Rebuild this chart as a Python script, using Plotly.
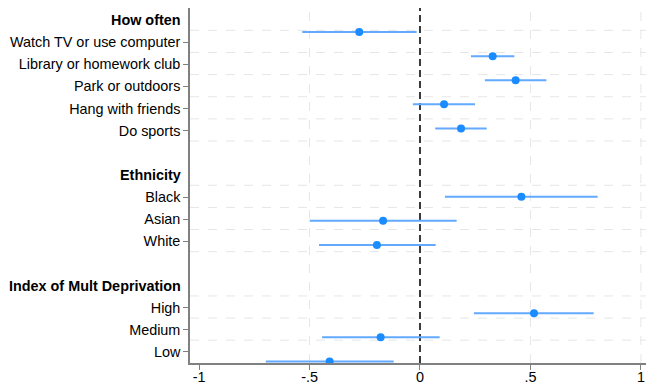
import plotly.graph_objects as go

# ---- data ----
group_names = ["How often", "Ethnicity", "Index of Mult Deprivation"]
item_labels = ["Watch TV or use computer", "Library or homework club", "Park or outdoors",
               "Hang with friends", "Do sports",
               "Black", "Asian", "White",
               "High", "Medium", "Low"]
item_group = [0, 0, 0, 0, 0, 1, 1, 1, 2, 2, 2]
coef = [-0.275, 0.329, 0.433, 0.109, 0.186, 0.459, -0.167, -0.195, 0.516, -0.178, -0.409]
ci_low = [-0.533, 0.231, 0.294, -0.032, 0.069, 0.113, -0.499, -0.457, 0.244, -0.443, -0.698]
ci_high = [-0.015, 0.427, 0.572, 0.249, 0.302, 0.804, 0.166, 0.071, 0.786, 0.089, -0.119]
x_ticks = [-1, -0.5, 0, 0.5, 1]
x_tick_labels = ["-1", "-.5", "0", ".5", "1"]

# ---- layout of rows ----
rows = []
header_rows = []
r = 0
for g in range(len(group_names)):
    if g > 0:
        r += 1  # blank row
    header_rows.append(r)
    r += 1
    for i, gg in enumerate(item_group):
        if gg == g:
            rows.append(r)
            r += 1

# marker positions drift slightly relative to label rows (as in source graph)
point_y = [rows[k] - 0.45 + 0.088 * k for k in range(len(rows))]

font = "Liberation Sans, Arial, Helvetica, sans-serif"
fsize = 14.4
fig = go.Figure()

# grid shapes
shapes = []
grid_rows = []
for g, hr in enumerate(header_rows):
    grid_rows.append(hr + 0.47)
for k, rr in enumerate(rows):
    if k < len(rows) - 1:
        grid_rows.append(rr + 0.47)
for gy in grid_rows:
    shapes.append(dict(type="line", xref="paper", x0=0, x1=1, yref="y", y0=gy, y1=gy,
                       line=dict(color="#e6e6e6", width=1, dash="dash"), layer="below"))
for gx in [-0.5, 0.5, 1]:
    shapes.append(dict(type="line", xref="x", x0=gx, x1=gx, yref="paper", y0=0, y1=1,
                       line=dict(color="#e6e6e6", width=1, dash="dash"), layer="below"))
shapes.append(dict(type="line", xref="x", x0=0, x1=0, yref="paper", y0=0, y1=1,
                   line=dict(color="#3a3a3a", width=2, dash="7px,4px"), layer="below"))

fig.add_trace(go.Scatter(
    x=coef, y=point_y, mode="markers",
    marker=dict(color="#1a8cff", size=8),
    error_x=dict(type="data", symmetric=False,
                 array=[h - c for h, c in zip(ci_high, coef)],
                 arrayminus=[c - l for c, l in zip(coef, ci_low)],
                 color="#62a9ff", thickness=2, width=0),
    showlegend=False, hoverinfo="skip"))

annotations = []
for g, hr in enumerate(header_rows):
    annotations.append(dict(x=0, xref="paper", xanchor="right", xshift=-7,
                            y=hr, yref="y", yanchor="middle", showarrow=False,
                            text="<b>" + group_names[g] + "</b>",
                            font=dict(family=font, size=fsize, color="black")))

fig.update_layout(
    width=646, height=385,
    margin=dict(l=190, r=0, t=8, b=22, autoexpand=False),
    paper_bgcolor="white", plot_bgcolor="white",
    shapes=shapes, annotations=annotations,
    font=dict(family=font, size=fsize, color="black"),
    xaxis=dict(range=[-1.041, 1.023], tickvals=x_ticks, ticktext=x_tick_labels,
               showgrid=False, zeroline=False, showline=True, linecolor="#808080",
               linewidth=1.5, ticks="outside", ticklen=5, tickcolor="#808080",
               automargin=False, ticklabelstandoff=-5,
               tickfont=dict(family=font, size=fsize, color="black")),
    yaxis=dict(range=[15.5, -0.54], tickvals=rows, ticktext=item_labels,
               showgrid=False, zeroline=False, showline=True, linecolor="#808080",
               linewidth=1.5, ticks="outside", ticklen=5, tickcolor="#808080",
               automargin=False,
               tickfont=dict(family=font, size=fsize, color="black")),
)

fig.write_html("out.html", config={"displayModeBar": False},
               post_script="document.body.style.margin='0';document.body.style.overflow='hidden';")
